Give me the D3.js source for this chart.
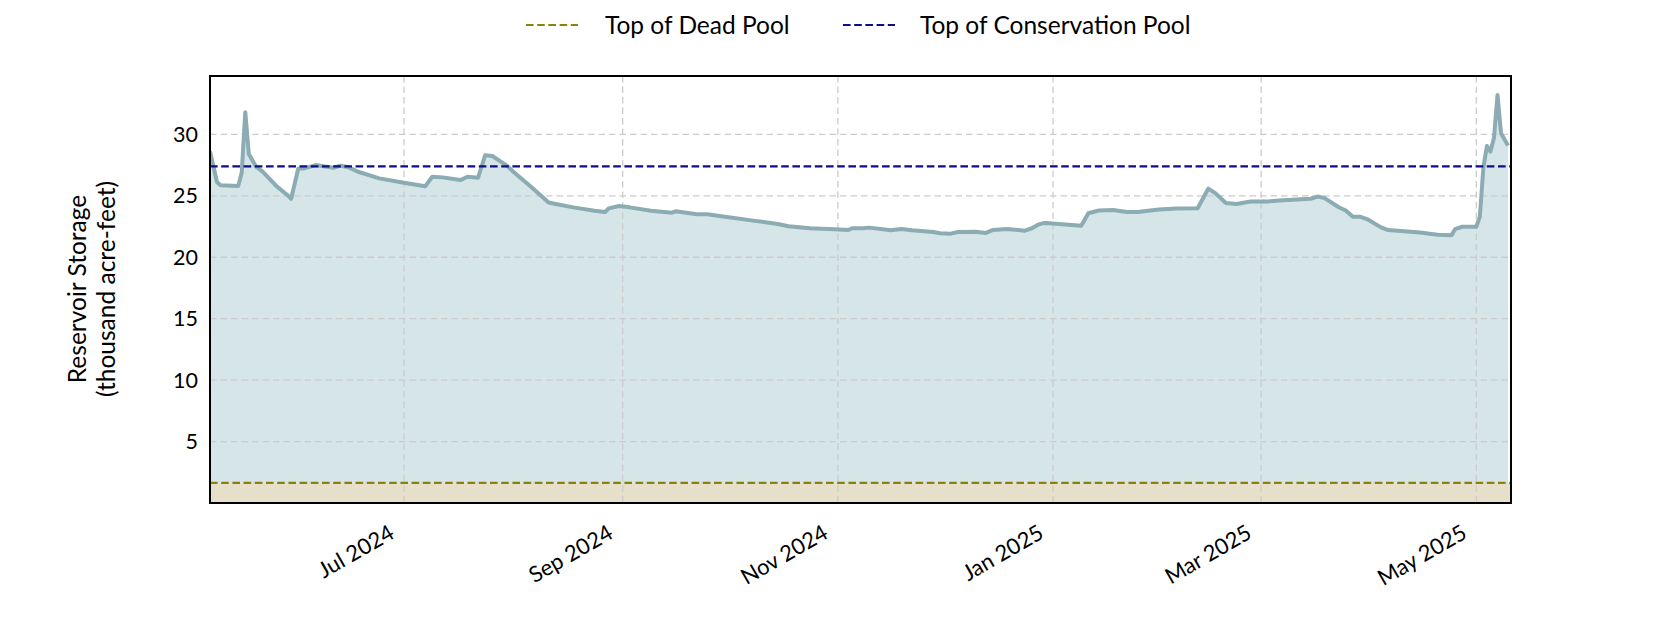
<!DOCTYPE html>
<html>
<head>
<meta charset="utf-8">
<script src="https://cdn.jsdelivr.net/npm/d3@7"></script>
<style>
  html, body { margin: 0; padding: 0; background: #fff; }
  svg { display: block; font-family: "Lato", "Open Sans", sans-serif; }
</style>
</head>
<body>
<svg id="chart" width="1680" height="630"></svg>
<script>
// ---------------- DATA ----------------
const dates = [
  "2024-05-07","2024-05-09","2024-05-10","2024-05-15","2024-05-16","2024-05-17","2024-05-18","2024-05-20",
  "2024-05-22","2024-05-26","2024-05-29","2024-05-30","2024-06-01","2024-06-03","2024-06-06","2024-06-09",
  "2024-06-11","2024-06-13","2024-06-15","2024-06-18","2024-06-24","2024-07-01","2024-07-07","2024-07-09",
  "2024-07-12","2024-07-17","2024-07-19","2024-07-22","2024-07-24","2024-07-26","2024-07-30","2024-08-01",
  "2024-08-06","2024-08-11","2024-08-13","2024-08-18","2024-08-24","2024-08-27","2024-08-28","2024-08-31",
  "2024-09-03","2024-09-09","2024-09-15","2024-09-16","2024-09-22","2024-09-25","2024-10-01","2024-10-08",
  "2024-10-15","2024-10-18","2024-10-24","2024-10-31","2024-11-04","2024-11-05","2024-11-08","2024-11-10",
  "2024-11-16","2024-11-19","2024-11-22","2024-11-28","2024-11-30","2024-12-03","2024-12-05","2024-12-10",
  "2024-12-13","2024-12-15","2024-12-19","2024-12-24","2024-12-26","2024-12-28","2024-12-29","2024-12-30",
  "2025-01-09","2025-01-11","2025-01-14","2025-01-18","2025-01-22","2025-01-25","2025-01-31","2025-02-05",
  "2025-02-11","2025-02-14","2025-02-16","2025-02-19","2025-02-22","2025-02-26","2025-03-03","2025-03-06",
  "2025-03-10","2025-03-15","2025-03-17","2025-03-19","2025-03-23","2025-03-25","2025-03-27","2025-03-29",
  "2025-03-31","2025-04-04","2025-04-06","2025-04-15","2025-04-20","2025-04-24","2025-04-25","2025-04-27",
  "2025-05-01","2025-05-02","2025-05-03","2025-05-04","2025-05-05","2025-05-06","2025-05-07","2025-05-08",
  "2025-05-10"
];
const storage = [
  28.6, 26.1, 25.85, 25.8, 26.9, 31.8, 28.4, 27.4,
  26.95, 25.75, 25.05, 24.75, 27.2, 27.25, 27.5, 27.37,
  27.28, 27.45, 27.35, 26.96, 26.42, 26.07, 25.77, 26.55,
  26.5, 26.28, 26.55, 26.47, 28.3, 28.24, 27.5, 26.96,
  25.74, 24.45, 24.33, 24.06, 23.79, 23.68, 23.98, 24.17,
  24.06, 23.79, 23.63, 23.74, 23.5, 23.5, 23.25, 22.98,
  22.71, 22.52, 22.36, 22.28, 22.22, 22.36, 22.36, 22.41,
  22.2, 22.3, 22.2, 22.06, 21.95, 21.92, 22.06, 22.08,
  21.98, 22.22, 22.3, 22.16, 22.36, 22.68, 22.76, 22.79,
  22.56, 23.58, 23.8, 23.85, 23.68, 23.68, 23.88, 23.96,
  23.99, 25.58, 25.22, 24.42, 24.34, 24.54, 24.54, 24.62,
  24.67, 24.76, 24.94, 24.81, 24.07, 23.8, 23.3, 23.3,
  23.11, 22.43, 22.21, 22.02, 21.83, 21.8, 22.29, 22.48,
  22.48, 23.3, 27.3, 29.05, 28.6, 29.7, 33.2, 30.1,
  29.1
];
const deadPool = 1.63;          // top of dead pool (thousand acre-feet)
const conservationPool = 27.4;  // top of conservation pool
const yTicks = [5, 10, 15, 20, 25, 30];
const xTickDates = ["2024-07-01","2024-09-01","2024-11-01","2025-01-01","2025-03-01","2025-05-01"];
const legendLabels = ["Top of Dead Pool", "Top of Conservation Pool"];
const yTitle = ["Reservoir Storage", "(thousand acre-feet)"];

// ---------------- LAYOUT ----------------
const plot = { left: 210, top: 76, right: 1511, bottom: 503 };
const parse = d3.timeParse("%Y-%m-%d");
const data = dates.map((d, i) => ({ date: parse(d), v: storage[i] }));

const svg = d3.select("#chart");

const x = d3.scaleTime()
  .domain([parse("2024-05-07"), new Date(2025, 4, 10, 20)])
  .range([plot.left, plot.right]);
const y = d3.scaleLinear()
  .domain([0, 34.75])
  .range([plot.bottom, plot.top]);

const colors = {
  line: "#8aacb2",
  fill: "#d6e5e8",
  deadFill: "#e6dfca",
  dead: "#8c8300",
  cons: "#0d0d8a",
  grid: "#cccccc"
};

svg.append("defs").append("clipPath").attr("id", "clip")
  .append("rect")
  .attr("x", plot.left).attr("y", plot.top)
  .attr("width", plot.right - plot.left).attr("height", plot.bottom - plot.top);

const g = svg.append("g").attr("clip-path", "url(#clip)");

// storage area (from dead pool up to value)
g.append("path")
  .datum(data)
  .attr("fill", colors.fill)
  .attr("d", d3.area().x(d => x(d.date)).y0(y(deadPool)).y1(d => y(d.v)));

// dead pool band
g.append("rect")
  .attr("x", plot.left).attr("width", plot.right - plot.left)
  .attr("y", y(deadPool)).attr("height", y(0) - y(deadPool))
  .attr("fill", colors.deadFill);

// grid
g.append("g").selectAll("line").data(yTicks).join("line")
  .attr("x1", plot.left).attr("x2", plot.right)
  .attr("y1", d => y(d)).attr("y2", d => y(d))
  .attr("stroke", colors.grid).attr("stroke-width", 1.3)
  .attr("stroke-dasharray", "6.5,4");
g.append("g").selectAll("line").data(xTickDates.map(parse)).join("line")
  .attr("x1", d => x(d)).attr("x2", d => x(d))
  .attr("y1", plot.top).attr("y2", plot.bottom)
  .attr("stroke", colors.grid).attr("stroke-width", 1.3)
  .attr("stroke-dasharray", "6.5,4");

// storage line
g.append("path")
  .datum(data)
  .attr("fill", "none")
  .attr("stroke", colors.line)
  .attr("stroke-width", 4)
  .attr("stroke-linejoin", "round")
  .attr("d", d3.line().x(d => x(d.date)).y(d => y(d.v)));

// reference lines
g.append("line")
  .attr("x1", plot.left).attr("x2", plot.right)
  .attr("y1", y(deadPool)).attr("y2", y(deadPool))
  .attr("stroke", colors.dead).attr("stroke-width", 2.2)
  .attr("stroke-dasharray", "7.6,3.6");
g.append("line")
  .attr("x1", plot.left).attr("x2", plot.right)
  .attr("y1", y(conservationPool)).attr("y2", y(conservationPool))
  .attr("stroke", colors.cons).attr("stroke-width", 2.2)
  .attr("stroke-dasharray", "7.6,3.6");

// frame
svg.append("rect")
  .attr("x", plot.left).attr("y", plot.top)
  .attr("width", plot.right - plot.left).attr("height", plot.bottom - plot.top)
  .attr("fill", "none").attr("stroke", "#000").attr("stroke-width", 2);

// y axis
const yAxis = svg.append("g")
  .attr("transform", `translate(${plot.left},0)`)
  .call(d3.axisLeft(y).tickValues(yTicks).tickSize(0).tickPadding(12).tickFormat(d3.format("d")));
yAxis.select(".domain").remove();
yAxis.selectAll("text").attr("font-size", 21.5).attr("fill", "#000")
  .attr("font-family", "Lato, sans-serif");

// x axis: rotated labels, top-right corner of rotated box placed near tick (matplotlib-like)
const xAxis = svg.append("g")
  .attr("transform", `translate(0,${plot.bottom})`)
  .call(d3.axisBottom(x).tickValues(xTickDates.map(parse)).tickSize(0).tickFormat(d3.timeFormat("%b %Y")));
xAxis.select(".domain").remove();
const ang = -30 * Math.PI / 180;
xAxis.selectAll("text")
  .attr("font-size", 22).attr("fill", "#000")
  .attr("font-family", "Lato, sans-serif")
  .attr("text-anchor", "end")
  .attr("dy", null).attr("y", null)
  .each(function () {
    const b = this.getBBox();
    const corners = [[b.x, b.y], [b.x + b.width, b.y], [b.x, b.y + b.height], [b.x + b.width, b.y + b.height]]
      .map(([px, py]) => [px * Math.cos(ang) - py * Math.sin(ang), px * Math.sin(ang) + py * Math.cos(ang)]);
    const maxX = d3.max(corners, c => c[0]);
    const minY = d3.min(corners, c => c[1]);
    const tx = -6 - maxX, ty = 15 - minY;
    d3.select(this).attr("transform", `translate(${tx},${ty}) rotate(-30)`);
  });

// y title
const yt = svg.append("text")
  .attr("transform", `translate(86,289) rotate(-90)`)
  .attr("text-anchor", "middle")
  .attr("font-size", 24.5).attr("fill", "#000");
yTitle.forEach((t, i) => {
  yt.append("tspan").attr("x", 0).attr("dy", i === 0 ? 0 : 28.5).text(t);
});

// legend
const legend = svg.append("g").attr("transform", "translate(0,25)");
const legendItems = [
  { label: legendLabels[0], color: colors.dead, x0: 526, tx: 605 },
  { label: legendLabels[1], color: colors.cons, x0: 843, tx: 920 }
];
legendItems.forEach(it => {
  legend.append("line")
    .attr("x1", it.x0).attr("x2", it.x0 + 52)
    .attr("y1", 0).attr("y2", 0)
    .attr("stroke", it.color).attr("stroke-width", 2.2)
    .attr("stroke-dasharray", "7.6,3.6");
  legend.append("text")
    .attr("x", it.tx).attr("y", 0).attr("dy", "0.35em")
    .attr("font-size", 24.5).attr("fill", "#000")
    .text(it.label);
});
</script>
</body>
</html>
